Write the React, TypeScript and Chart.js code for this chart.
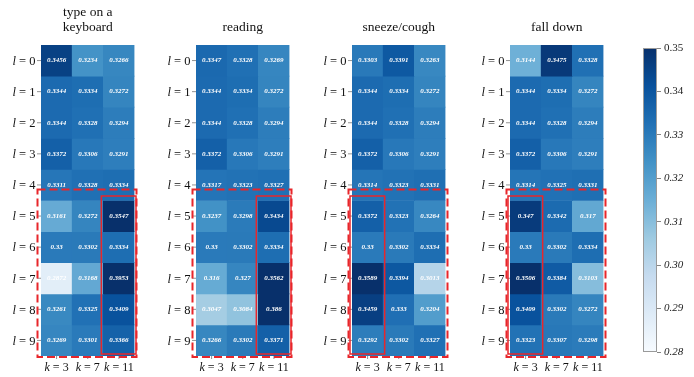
import React, { useEffect, useRef } from "react";
import { Chart, registerables } from "chart.js";
Chart.register(...registerables);

// ---------- data ----------
const rowLabels = ["0", "1", "2", "3", "4", "5", "6", "7", "8", "9"];
const colLabels = ["3", "7", "11"];

const typeOnKeyboard = [
  [0.3456, 0.3234, 0.3266],
  [0.3344, 0.3334, 0.3272],
  [0.3344, 0.3328, 0.3294],
  [0.3372, 0.3306, 0.3291],
  [0.3311, 0.3328, 0.3334],
  [0.3161, 0.3272, 0.3547],
  [0.33, 0.3302, 0.3334],
  [0.2872, 0.3168, 0.3953],
  [0.3261, 0.3325, 0.3409],
  [0.3269, 0.3301, 0.3366],
];
const reading = [
  [0.3347, 0.3328, 0.3269],
  [0.3344, 0.3334, 0.3272],
  [0.3344, 0.3328, 0.3294],
  [0.3372, 0.3306, 0.3291],
  [0.3317, 0.3323, 0.3327],
  [0.3237, 0.3298, 0.3434],
  [0.33, 0.3302, 0.3334],
  [0.316, 0.327, 0.3562],
  [0.3047, 0.3084, 0.386],
  [0.3266, 0.3302, 0.3371],
];
const sneezeCough = [
  [0.3303, 0.3391, 0.3263],
  [0.3344, 0.3334, 0.3272],
  [0.3344, 0.3328, 0.3294],
  [0.3372, 0.3306, 0.3291],
  [0.3314, 0.3323, 0.3331],
  [0.3372, 0.3323, 0.3264],
  [0.33, 0.3302, 0.3334],
  [0.3589, 0.3394, 0.3013],
  [0.3459, 0.333, 0.3204],
  [0.3292, 0.3302, 0.3327],
];
const fallDown = [
  [0.3144, 0.3475, 0.3328],
  [0.3344, 0.3334, 0.3272],
  [0.3344, 0.3328, 0.3294],
  [0.3372, 0.3306, 0.3291],
  [0.3314, 0.3325, 0.3331],
  [0.347, 0.3342, 0.317],
  [0.33, 0.3302, 0.3334],
  [0.3506, 0.3384, 0.3103],
  [0.3409, 0.3302, 0.3272],
  [0.3323, 0.3307, 0.3298],
];

const panelTitles = [["type on a", "keyboard"], ["reading"], ["sneeze/cough"], ["fall down"]];
const panelValues = [typeOnKeyboard, reading, sneezeCough, fallDown];
const highlightCols = [2, 2, 0, 0];

const vMin = 0.28;
const vMax = 0.35;
const colorbarStep = 0.01;

// ---------- colours ----------
const BLUES = ["#f7fbff", "#deebf7", "#c6dbef", "#9ecae1", "#6baed6", "#4292c6", "#2171b5", "#08519c", "#08306b"];
function hexToRgb(h: string) {
  return [parseInt(h.slice(1, 3), 16), parseInt(h.slice(3, 5), 16), parseInt(h.slice(5, 7), 16)];
}
function bluesAt(t: number) {
  t = Math.max(0, Math.min(1, t));
  const n = BLUES.length - 1;
  const i = Math.min(n - 1, Math.floor(t * n));
  const f = t * n - i;
  const a = hexToRgb(BLUES[i]);
  const b = hexToRgb(BLUES[i + 1]);
  const c = a.map((v, k) => Math.round(v + (b[k] - v) * f));
  return `rgb(${c[0]},${c[1]},${c[2]})`;
}
const colorFor = (v: number) => bluesAt((v - vMin) / (vMax - vMin));

const SERIF = "'Liberation Serif', 'DejaVu Serif', serif";
const RED = "#e8262b";

// ---------- layout ----------
const W = 694;
const H = 377;
const cellLefts = [41, 196, 352, 510];
const gridWidth = 93.5;
const labelSpace = 41;
const canvasW = 145;
const gridTop = 45;
const gridBottom = 356;

function Panel({ idx }: { idx: number }) {
  const ref = useRef<HTMLCanvasElement>(null);
  useEffect(() => {
    const values = panelValues[idx];
    const title = panelTitles[idx];
    const hc = highlightCols[idx];
    const deco = {
      id: "panelDeco" + idx,
      afterDatasetsDraw(chart: any) {
        const { ctx, chartArea: a, scales } = chart;
        const x = scales.x;
        const y = scales.y;
        ctx.save();
        // cell values
        ctx.fillStyle = "#ffffff";
        ctx.textAlign = "center";
        ctx.textBaseline = "middle";
        ctx.font = `italic bold 7px ${SERIF}`;
        chart.data.datasets.forEach((ds: any, i: number) => {
          const meta = chart.getDatasetMeta(i);
          meta.data.forEach((el: any, j: number) => {
            ctx.fillText(String(values[i][j]), el.x, (el.y + el.base) / 2);
          });
        });
        // y tick marks and labels
        ctx.strokeStyle = "#777";
        ctx.lineWidth = 0.8;
        ctx.fillStyle = "#111";
        ctx.textBaseline = "middle";
        rowLabels.forEach((lab, i) => {
          const py = y.getPixelForValue(i + 0.5);
          ctx.beginPath();
          ctx.moveTo(a.left - 4, py);
          ctx.lineTo(a.left, py);
          ctx.stroke();
          ctx.font = `12.5px ${SERIF}`;
          const rest = " = " + lab;
          const wr = ctx.measureText(rest).width;
          ctx.textAlign = "right";
          const right = a.left - 5.5;
          ctx.fillText(rest, right, py + 1);
          ctx.font = `italic 12.5px ${SERIF}`;
          ctx.fillText("l", right - wr, py + 1);
        });
        // x tick marks and labels
        colLabels.forEach((lab, j) => {
          const px = x.getPixelForValue(j);
          ctx.beginPath();
          ctx.moveTo(px, a.bottom);
          ctx.lineTo(px, a.bottom + 3);
          ctx.stroke();
          ctx.font = `italic 12px ${SERIF}`;
          const wk = ctx.measureText("k").width;
          ctx.font = `12px ${SERIF}`;
          const rest = " = " + lab;
          const wr = ctx.measureText(rest).width;
          const start = px - (wk + wr) / 2;
          ctx.textAlign = "left";
          ctx.textBaseline = "alphabetic";
          ctx.fillText(rest, start + wk, 371);
          ctx.font = `italic 12px ${SERIF}`;
          ctx.fillText("k", start, 371);
        });
        // title
        ctx.font = `13.5px ${SERIF}`;
        ctx.textAlign = "center";
        ctx.textBaseline = "alphabetic";
        ctx.fillStyle = "#111";
        const cx = (a.left + a.right) / 2;
        title.forEach((t, k) => {
          ctx.fillText(t, cx, 31 - (title.length - 1 - k) * 15);
        });
        // red boxes
        const top5 = y.getPixelForValue(5);
        const bot = y.getPixelForValue(10);
        const colW = (a.right - a.left) / 3;
        ctx.strokeStyle = RED;
        ctx.lineWidth = 2;
        ctx.setLineDash([8, 4]);
        ctx.strokeRect(a.left - 3.5, top5 - 11, a.right - a.left + 5.5, bot + 1 - (top5 - 11));
        ctx.setLineDash([]);
        ctx.lineWidth = 1.5;
        const sx0 = a.left + hc * colW - 2;
        const sx1 = a.left + (hc + 1) * colW + 1.5;
        ctx.strokeRect(sx0, top5 - 4.5, sx1 - sx0, bot - 2 - (top5 - 4.5));
        ctx.restore();
      },
    };
    const chart = new Chart(ref.current as HTMLCanvasElement, {
      type: "bar",
      data: {
        labels: colLabels.map((c) => "k = " + c),
        datasets: rowLabels.map((r, i) => ({
          label: "l = " + r,
          data: colLabels.map(() => [i, i + 1]),
          backgroundColor: values[i].map(colorFor),
          borderWidth: 0,
          grouped: false,
          categoryPercentage: 1,
          barPercentage: 1,
        })) as any,
      },
      options: {
        animation: false,
        responsive: false,
        devicePixelRatio: 1,
        layout: {
          padding: {
            left: labelSpace,
            right: canvasW - labelSpace - gridWidth,
            top: gridTop,
            bottom: H - gridBottom,
          },
        },
        plugins: { legend: { display: false }, tooltip: { enabled: false } },
        scales: {
          x: { display: false, offset: true },
          y: { type: "linear", display: false, min: 0, max: 10, reverse: true },
        },
      },
      plugins: [deco],
    });
    return () => chart.destroy();
  }, [idx]);
  return (
    <canvas
      ref={ref}
      width={canvasW}
      height={H}
      style={{ position: "absolute", left: cellLefts[idx] - labelSpace, top: 0, width: canvasW, height: H }}
    />
  );
}

function ColorBar() {
  const ref = useRef<HTMLCanvasElement>(null);
  useEffect(() => {
    const chart = new Chart(ref.current as HTMLCanvasElement, {
      type: "bar",
      data: {
        labels: [""],
        datasets: [
          {
            data: [[vMin, vMax]] as any,
            backgroundColor: (c: any) => {
              const a = c.chart.chartArea;
              if (!a) return BLUES[4];
              const g = c.chart.ctx.createLinearGradient(0, a.bottom, 0, a.top);
              BLUES.forEach((col, k) => g.addColorStop(k / (BLUES.length - 1), col));
              return g;
            },
            borderColor: "#9a9a9a",
            borderWidth: 1,
            borderSkipped: false,
            inflateAmount: 0,
            categoryPercentage: 1,
            barPercentage: 1,
          } as any,
        ],
      },
      options: {
        animation: false,
        responsive: false,
        devicePixelRatio: 1,
        layout: { padding: { left: 13, top: 48, bottom: H - 352, right: 0 } },
        plugins: { legend: { display: false }, tooltip: { enabled: false } },
        scales: {
          x: { display: false },
          y: {
            position: "right",
            min: vMin,
            max: vMax,
            border: { display: false },
            grid: { drawOnChartArea: false, tickLength: 4, color: "#666", lineWidth: 0.8 },
            ticks: {
              stepSize: colorbarStep,
              padding: 3,
              color: "#222",
              font: (c: any) => ({
                family: SERIF,
                size: 11,
                style: c.tick && c.tick.value > 0.335 ? "normal" : "italic",
              }),
              callback: (v: any) => Number(v).toFixed(2),
            },
            afterFit: (s: any) => {
              s.width = 37;
            },
          },
        },
      },
    });
    return () => chart.destroy();
  }, []);
  return (
    <canvas
      ref={ref}
      width={64}
      height={H}
      style={{ position: "absolute", left: 630, top: 0, width: 64, height: H }}
    />
  );
}

export default function App() {
  return (
    <div style={{ position: "fixed", left: 0, top: 0, width: W, height: H, background: "#fff", overflow: "hidden" }}>
      {panelValues.map((_, i) => (
        <Panel key={i} idx={i} />
      ))}
      <ColorBar />
    </div>
  );
}
